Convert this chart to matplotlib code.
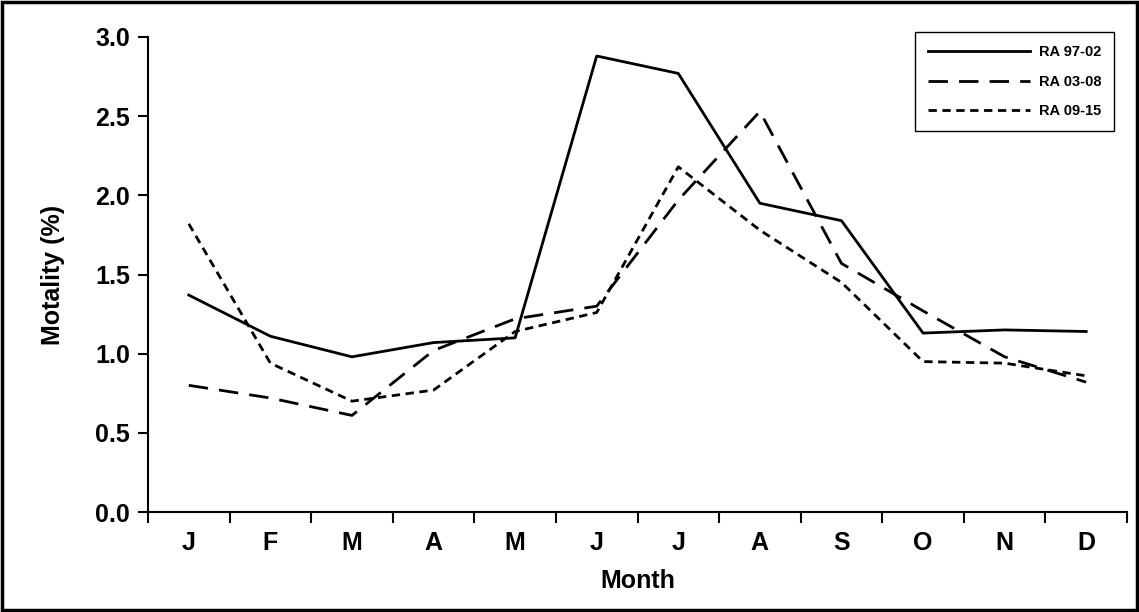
import matplotlib.pyplot as plt
from matplotlib.patches import Rectangle

months = ["J", "F", "M", "A", "M", "J", "J", "A", "S", "O", "N", "D"]
ra_97_02 = [1.37, 1.11, 0.98, 1.07, 1.10, 2.88, 2.77, 1.95, 1.84, 1.13, 1.15, 1.14]
ra_03_08 = [0.80, 0.72, 0.61, 1.02, 1.22, 1.30, 1.97, 2.53, 1.57, 1.27, 0.98, 0.82]
ra_09_15 = [1.82, 0.94, 0.70, 0.77, 1.14, 1.26, 2.18, 1.78, 1.45, 0.95, 0.94, 0.86]

plt.rcParams['font.family'] = ['Liberation Sans', 'DejaVu Sans']
fig = plt.figure(figsize=(11.39, 6.12), dpi=100)
ax = fig.add_axes([148/1139, 100/612, (1127-148)/1139, (512-37)/612])
fig.patches.append(Rectangle((0.002, 0.003), 0.996, 0.994, transform=fig.transFigure,
                             fill=False, edgecolor='black', linewidth=2.5))

x = list(range(len(months)))
ax.plot(x, ra_97_02, color='black', lw=2, linestyle='-', label='RA 97-02')
ax.plot(x, ra_03_08, color='black', lw=2, linestyle=(0, (7, 4)), label='RA 03-08')
ax.plot(x, ra_09_15, color='black', lw=2, linestyle=(0, (3, 2)), label='RA 09-15')

ax.set_xlim(-0.5, 11.5)
ax.set_ylim(0, 3.0)
ax.set_yticks([0, 0.5, 1.0, 1.5, 2.0, 2.5, 3.0])
ax.set_yticklabels([f"{v:.1f}" for v in ax.get_yticks()], fontsize=18, fontweight='bold')
ax.set_xticks(x)
ax.set_xticklabels(months, fontsize=18, fontweight='bold')
ax.tick_params(axis='x', length=0, pad=14)
ax.set_xticks([i - 0.5 for i in range(13)], minor=True)
ax.tick_params(axis='x', which='minor', length=8, width=1.5, direction='out')
ax.tick_params(axis='y', length=7, width=1.5, direction='out', pad=6)
for s in ['top', 'right']:
    ax.spines[s].set_visible(False)
for s in ['left', 'bottom']:
    ax.spines[s].set_linewidth(1.5)
ax.set_xlabel('Month', fontsize=18, fontweight='bold', labelpad=10)
ax.set_ylabel('Motality (%)', fontsize=18, fontweight='bold', labelpad=22)

leg = ax.legend(loc='upper right', bbox_to_anchor=(0.987, 1.01), fancybox=False,
                edgecolor='black', prop={'weight': 'bold', 'size': 10.5},
                handlelength=7, handletextpad=0.6, borderpad=0.9, labelspacing=1.05,
                framealpha=1, borderaxespad=0)
leg.get_frame().set_linewidth(1)

fig.savefig('out.png', dpi=100)
